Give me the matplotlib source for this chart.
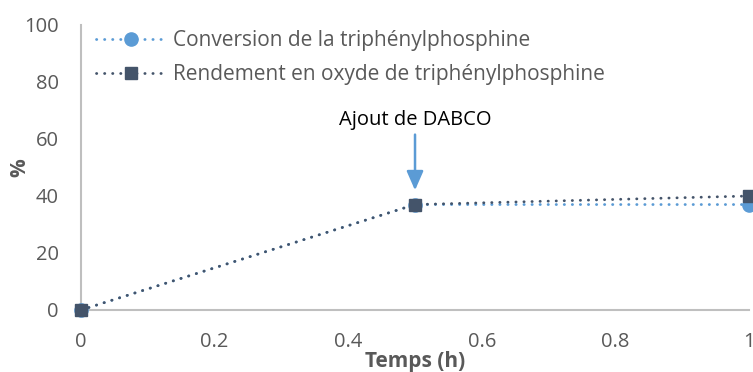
import matplotlib.pyplot as plt

# time points (h) and the two measured series (%)
temps = [0, 0.5, 1]
conversion = [0, 37, 37]
rendement = [0, 37, 40]

blue = '#5B9BD5'
dark = '#44546A'
grey = '#595959'

plt.rcParams['font.family'] = ['Open Sans', 'DejaVu Sans']

fig = plt.figure(figsize=(7.53, 3.72), dpi=100)
ax = fig.add_axes([0.1076, 0.1667, 0.8871, 0.7661])

dots = (0, (0.1, 2.8))
ax.plot(temps, conversion, color=blue, lw=2, linestyle=dots, dash_capstyle='round',
        marker='o', markersize=9.5, label='Conversion de la triphénylphosphine', clip_on=False, zorder=3)
ax.plot(temps, rendement, color=dark, lw=2, linestyle=dots, dash_capstyle='round',
        marker='s', markersize=9, label='Rendement en oxyde de triphénylphosphine', clip_on=False, zorder=4)

# arrow marking the DABCO addition
ax.annotate('Ajout de DABCO', xy=(0.5, 42), xytext=(0.5, 63), ha='center', va='bottom',
            fontsize=14.5, color='black',
            arrowprops=dict(arrowstyle='-|>,head_width=0.35,head_length=0.8', color=blue, lw=1.8,
                            shrinkA=1, shrinkB=0))

ax.set_xlim(0, 1)
ax.set_ylim(0, 100)
ax.set_xticks([0, 0.2, 0.4, 0.6, 0.8, 1])
ax.set_xticklabels(['0', '0.2', '0.4', '0.6', '0.8', '1'])
ax.set_yticks(range(0, 101, 20))
ax.tick_params(length=0, labelsize=14.5, colors=grey)
ax.tick_params(axis='y', pad=16)
ax.tick_params(axis='x', pad=16)

for s in ['top', 'right']:
    ax.spines[s].set_visible(False)
for s in ['left', 'bottom']:
    ax.spines[s].set_color('#BFBFBF')
    ax.spines[s].set_linewidth(1.5)

ax.set_xlabel('Temps (h)', fontsize=15, fontweight='bold', color=grey, labelpad=-1)
ax.set_ylabel('%', fontsize=15, fontweight='bold', color=grey, va='center')
ax.yaxis.set_label_coords(-0.091, 0.5)

ax.legend(loc='upper left', bbox_to_anchor=(0.0, 1.033), frameon=False, fontsize=15,
          labelcolor=grey, handlelength=3.4, handletextpad=0.3, labelspacing=0.62,
          borderaxespad=0.3)

fig.savefig('out.png', dpi=100)
